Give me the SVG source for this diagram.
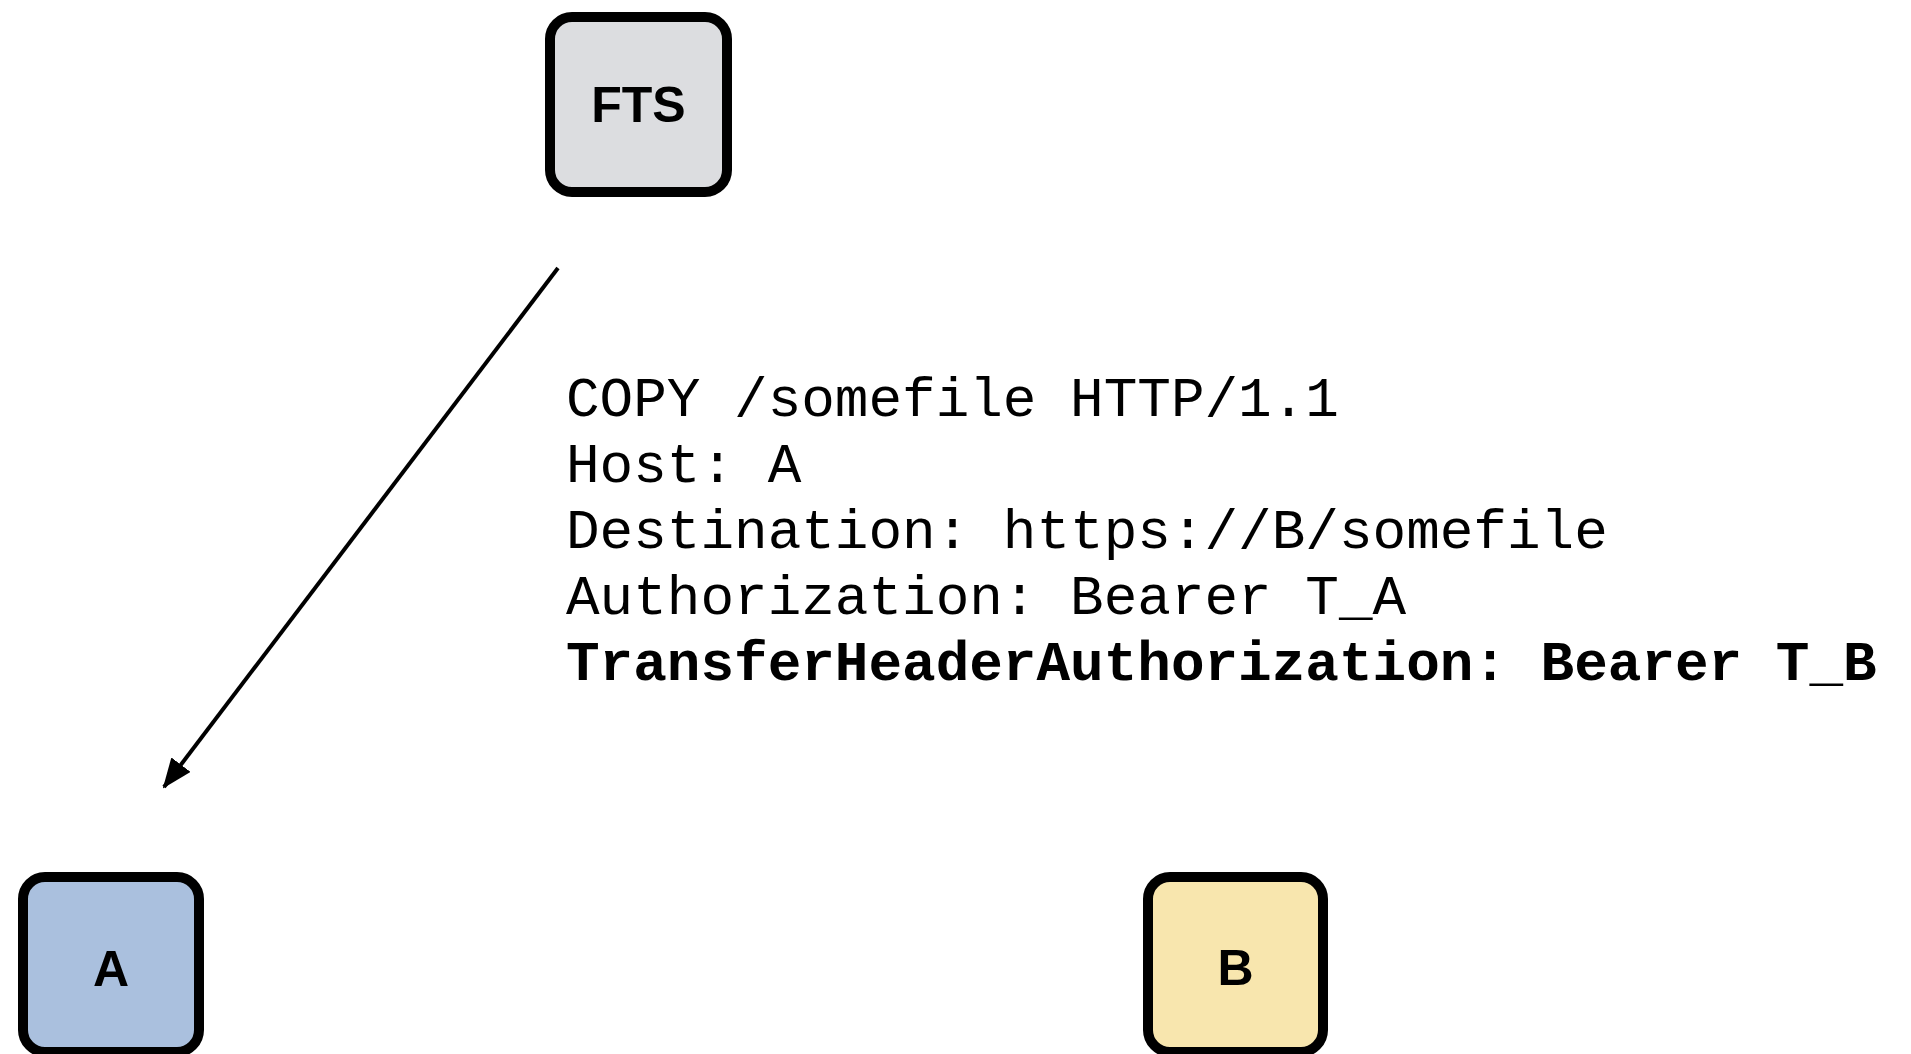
<svg xmlns="http://www.w3.org/2000/svg" width="1911" height="1054" viewBox="0 0 1911 1054">
<style>
.box{stroke:#000;stroke-width:10}
.lbl{font-family:"Liberation Sans",Arial,sans-serif;font-weight:bold;font-size:50px;text-anchor:middle;fill:#000}
.code{font-family:"Liberation Mono","Courier New",monospace;font-size:56px;fill:#000}
.conn{stroke:#000;stroke-width:4;fill:none}
</style>
<defs>
<marker id="arr" markerWidth="30" markerHeight="24" refX="28" refY="12" orient="auto" markerUnits="userSpaceOnUse" viewBox="0 0 30 24">
<path d="M0,0 L30,12 L0,24 z" fill="#000"/>
</marker>
</defs>
<rect width="1911" height="1054" fill="#fff"/>
<g id="node-fts">
<rect class="box" x="550" y="17" width="177" height="175" rx="22" fill="#dcdde0"/>
<text class="lbl" x="638.5" y="122">FTS</text>
</g>
<g id="node-a">
<rect class="box" x="23" y="877" width="176" height="175" rx="22" fill="#aac0de"/>
<text class="lbl" x="111" y="986">A</text>
</g>
<g id="node-b">
<rect class="box" x="1148" y="877" width="175" height="175" rx="22" fill="#f8e6ae"/>
<text class="lbl" x="1235.5" y="985">B</text>
</g>
<g id="connectors">
<line class="conn" x1="558" y1="268" x2="164" y2="787" marker-end="url(#arr)"/>
</g>
<g id="label">
<text class="code" x="566" y="416">COPY /somefile HTTP/1.1</text>
<text class="code" x="566" y="482">Host: A</text>
<text class="code" x="566" y="548">Destination: https://B/somefile</text>
<text class="code" x="566" y="614">Authorization: Bearer T_A</text>
<text class="code" x="566" y="680" font-weight="bold">TransferHeaderAuthorization: Bearer T_B</text>
</g>
</svg>
